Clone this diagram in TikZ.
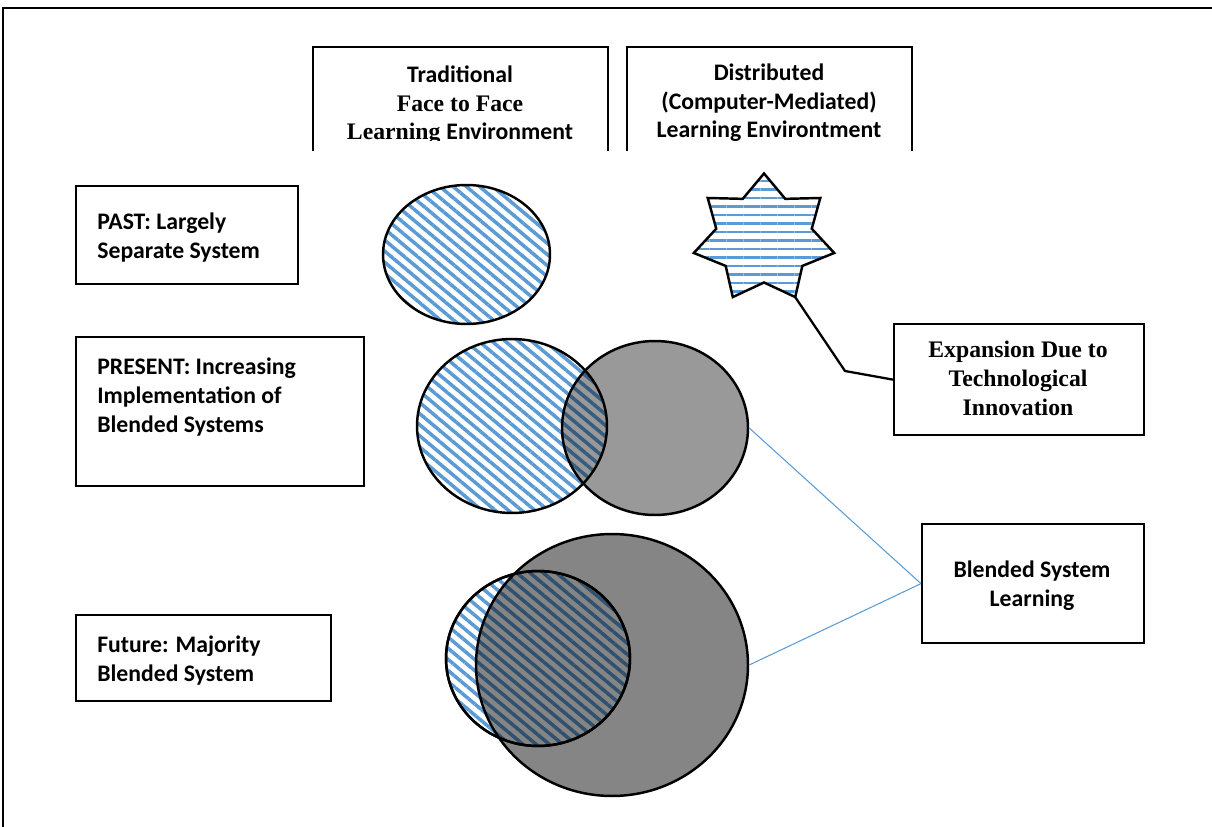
\documentclass[tikz,border=0pt]{standalone}
\usepackage{fontspec}
\setmainfont{Liberation Serif}
\newfontfamily\carlito{Carlito}
\usetikzlibrary{positioning,shapes.geometric,patterns.meta}
\definecolor{hatchblue}{HTML}{5B9BD5}
\tikzset{
  frame/.style={line width=1.6pt},
  rim/.style={line width=1.3pt},
  box/.style={draw, rim, inner sep=0pt},
  sans/.style={font=\carlito\bfseries\fontsize{13.5pt}{16.5pt}\selectfont, inner sep=0pt},
  serif/.style={font=\bfseries\fontsize{13.5pt}{16.5pt}\selectfont, inner sep=0pt},
  disk/.style={ellipse, draw, line width=1.4pt, inner sep=0pt},
  hatched/.style={disk, pattern={Lines[angle=-40, distance=0.17cm, line width=0.07cm]}, pattern color=hatchblue},
  shaded/.style={disk, fill=black, fill opacity=0.4, text opacity=1},
  link/.style={hatchblue, line width=0.6pt},
  callout/.style={line width=1.3pt}
}

\begin{document}
\begin{tikzpicture}[x=0.02cm, y=-0.02cm]
  \useasboundingbox (0,0) rectangle (1212,827);
  \draw[frame] (3,827) |- (1212,8);

  % column headings, cut off at the bottom
  \node[minimum width=5.88cm, minimum height=2.06cm, anchor=north west, inner sep=0pt] (trad) at (313,47) {};
  \node[minimum width=5.68cm, minimum height=2.06cm, anchor=north west, inner sep=0pt] (dist) at (627,47) {};
  \draw[rim] (trad.south west) |- (trad.north east) -- (trad.south east);
  \draw[rim] (dist.south west) |- (dist.north east) -- (dist.south east);
  \begin{scope}
    \clip (0,0) rectangle (1212,141);
    % multi-line nodes sit on the baseline of their last line
    \node[serif, align=center, anchor=base] (tradtxt) at (460,140)
      {{\carlito Traditional}\\Face to Face\\Learning {\carlito Environment}};
    \node[sans, align=center, anchor=base] (disttxt) at (769,138)
      {Distributed\\(Computer-Mediated)\\Learning Environtment};
  \end{scope}

  % row labels
  \node[box, minimum width=4.44cm, minimum height=1.96cm, anchor=north west] (past) at (75,185) {};
  \node[box, minimum width=5.76cm, minimum height=2.98cm, anchor=north west] (present) at (75,336) {};
  \node[box, minimum width=5.10cm, minimum height=1.72cm, anchor=north west] (future) at (75,614) {};
  \node[sans, align=left, anchor=base west] (pasttxt) at (97,258) {PAST: Largely\\Separate System};
  \node[sans, align=left, anchor=base west] (presenttxt) at (97,432) {PRESENT: Increasing\\Implementation of\\Blended Systems};
  \node[sans, align=left, anchor=base west] (futuretxt) at (97,681) {Future: Majority\\Blended System};

  % right hand notes
  \node[box, minimum width=5.00cm, minimum height=2.22cm, anchor=north west] (expansion) at (893,323) {};
  \node[box, minimum width=4.44cm, minimum height=2.38cm, anchor=north west] (blended) at (921,523) {};
  \node[serif, align=center, anchor=base] (expansiontxt) at (1018,415) {Expansion Due to\\Technological\\Innovation};
  \node[sans, align=center, anchor=base] (blendedtxt) at (1032,606) {Blended System\\Learning};

  % past
  \node[hatched, minimum width=3.34cm, minimum height=2.78cm] (pastc) at (466.5,254.5) {};
  \draw[disk, pattern={Lines[angle=0, distance=0.17cm, line width=0.055cm]}, pattern color=hatchblue]
    plot[variable=\k, samples at={0,...,13}]
      ({764+ifthenelse(mod(\k,2)==0,72,49)*cos(90+\k*360/14)},
       {238.5-ifthenelse(mod(\k,2)==0,65,44)*sin(90+\k*360/14)}) -- cycle;
  \coordinate (starpt) at (795.2,297.1);
  \coordinate (bend) at (845,371);
  \draw[callout] (starpt) -- (bend) -- (expansion.west);

  % present
  \node[hatched, minimum width=3.80cm, minimum height=3.48cm] (presl) at (512,426) {};
  \node[shaded, minimum width=3.72cm, minimum height=3.48cm] (presr) at (655,428) {};

  % future
  \node[hatched, minimum width=3.68cm, minimum height=3.50cm] (futl) at (538,658.5) {};
  \node[shaded, fill opacity=0.48, minimum width=5.44cm, minimum height=5.24cm] (futr) at (612,665) {};
  \draw[line width=1.4pt] (futl.center) ellipse [x radius=92, y radius=87.5];

  \draw[link] (presr.east) -- (blended.west);
  \draw[link] (futr.east) -- (blended.west);
\end{tikzpicture}
\end{document}
